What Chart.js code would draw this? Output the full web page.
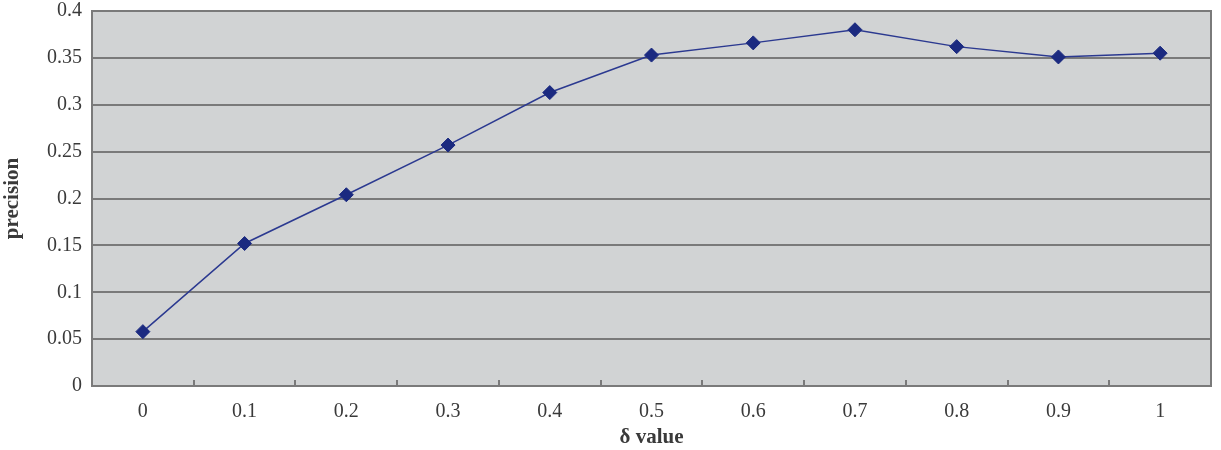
<!DOCTYPE html>
<html>
<head>
<meta charset="utf-8">
<script src="https://cdn.jsdelivr.net/npm/chart.js@4.4.0/dist/chart.umd.min.js"></script>
<style>
    html, body { margin: 0; padding: 0; background: #ffffff; }
    #wrap { width: 1221px; height: 450px; }
</style>
</head>
<body>
<div id="wrap"><canvas id="precisionChart" width="1221" height="450"></canvas></div>
<script>
// Données
const deltaLabels = ['0', '0.1', '0.2', '0.3', '0.4', '0.5', '0.6', '0.7', '0.8', '0.9', '1'];
const precisionValues = [0.058, 0.152, 0.204, 0.257, 0.313, 0.353, 0.366, 0.380, 0.362, 0.351, 0.355];
const yTicks = [0, 0.05, 0.1, 0.15, 0.2, 0.25, 0.3, 0.35, 0.4];

const gridColor = '#7a7a7a';
const textColor = '#3a3a3a';

// Fond gris de la zone de tracé + cadre + petites graduations vers l'intérieur
const plotArea = {
    id: 'plotArea',
    beforeDraw(chart) {
        const { ctx, chartArea: a } = chart;
        ctx.save();
        ctx.fillStyle = '#d1d3d4';
        ctx.fillRect(a.left, a.top, a.right - a.left, a.bottom - a.top);
        ctx.restore();
    },
    afterDatasetsDraw(chart) {
        const { ctx, chartArea: a } = chart;
        ctx.save();
        ctx.strokeStyle = gridColor;
        ctx.lineWidth = 2;
        ctx.strokeRect(a.left, a.top, a.right - a.left, a.bottom - a.top);
        const step = (a.right - a.left) / deltaLabels.length;
        for (let i = 1; i < deltaLabels.length; i++) {
            const px = Math.round(a.left + i * step);
            ctx.beginPath();
            ctx.moveTo(px, a.bottom);
            ctx.lineTo(px, a.bottom - 6);
            ctx.stroke();
        }
        ctx.restore();
    }
};

const ctx = document.getElementById('precisionChart').getContext('2d');
new Chart(ctx, {
    type: 'line',
    data: {
        labels: deltaLabels,
        datasets: [{
            label: 'precision',
            data: precisionValues,
            borderColor: '#2b3990',
            borderWidth: 1.5,
            pointStyle: 'rectRot',
            pointRadius: 7,
            pointBackgroundColor: '#1b2a80',
            pointBorderColor: '#1b2a80',
            pointBorderWidth: 1,
            tension: 0,
            fill: false
        }]
    },
    options: {
        responsive: false,
        animation: false,
        layout: {
            padding: { top: 11, right: 10, left: 0, bottom: 0 }
        },
        plugins: {
            legend: { display: false },
            tooltip: { enabled: false }
        },
        scales: {
            x: {
                type: 'category',
                offset: true,
                grid: { display: false },
                border: { display: false },
                ticks: {
                    color: textColor,
                    padding: 6,
                    font: { family: 'Liberation Serif', size: 20 }
                },
                title: {
                    display: true,
                    text: 'δ value',
                    color: textColor,
                    padding: { top: 12, bottom: 0 },
                    font: { family: 'Liberation Serif', size: 21, weight: 'bold' }
                },
                afterFit(scale) { scale.height = 64; }
            },
            y: {
                min: 0,
                max: 0.4,
                afterBuildTicks(scale) {
                    scale.ticks = yTicks.map(v => ({ value: v }));
                },
                grid: {
                    color: gridColor,
                    lineWidth: 2,
                    drawTicks: false
                },
                border: { display: false },
                ticks: {
                    color: textColor,
                    padding: 10,
                    font: { family: 'Liberation Serif', size: 20 },
                    callback: function(value) {
                        return String(parseFloat(value.toFixed(2)));
                    }
                },
                title: {
                    display: true,
                    text: 'precision',
                    color: textColor,
                    padding: { top: 0, bottom: 4 },
                    font: { family: 'Liberation Serif', size: 21, weight: 'bold' }
                },
                afterFit(scale) {
                    scale.width = 92;
                    scale.paddingTop = 0;
                    scale.paddingBottom = 0;
                }
            }
        }
    },
    plugins: [plotArea]
});
</script>
</body>
</html>
